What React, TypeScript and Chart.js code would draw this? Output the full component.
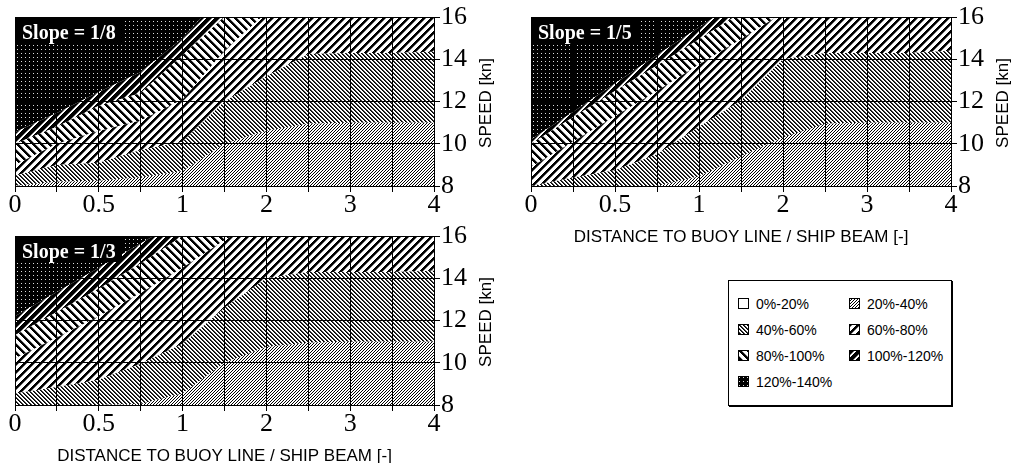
import React, { useEffect, useRef } from 'react';
import { Chart, registerables } from 'chart.js';

Chart.register(...registerables);

// ---------- DATA ----------
// x positions (distance to buoy line / ship beam) of the data grid
const X_LABELS = ['0', '0.25', '0.5', '0.75', '1', '1.5', '2', '2.5', '3', '3.5', '4'];
const X_TICKS_SHOWN = ['0', '0.5', '1', '2', '3', '4'];
const Y_MIN = 8;
const Y_MAX = 16;
const Y_STEP = 2;

const LEGEND_LABELS = ['0%-20%', '20%-40%', '40%-60%', '60%-80%', '80%-100%', '100%-120%', '120%-140%'];
const SLOPE_LABELS = ['Slope = 1/8', 'Slope = 1/5', 'Slope = 1/3'];
const X_TITLE = 'DISTANCE TO BUOY LINE / SHIP BEAM [-]';
const Y_TITLE = 'SPEED [kn]';

// Upper boundary (speed, kn) of each band at each X_LABELS position
// Slope = 1/8
const S8_TOP_20_40 = [8.0, 8.2, 8.25, 8.4, 8.7, 10.0, 10.6, 10.95, 11.0, 11.0, 11.0];
const S8_TOP_40_60 = [8.5, 9.0, 9.1, 9.7, 10.1, 12.0, 13.2, 14.25, 14.3, 14.3, 14.35];
const S8_TOP_60_80 = [9.0, 10.0, 10.6, 11.1, 12.1, 14.4, 16.2, 18, 18, 18, 18];
const S8_TOP_80_100 = [10.0, 10.8, 11.8, 12.4, 14.2, 16.0, 18, 18, 18, 18, 18];
const S8_TOP_100_120 = [10.55, 11.45, 12.45, 13.4, 15.0, 17.2, 18, 18, 18, 18, 18];

// Slope = 1/5
const S5_TOP_20_40 = [8.0, 8.0, 8.0, 8.0, 8.45, 9.4, 10.3, 10.95, 11.0, 11.0, 11.0];
const S5_TOP_40_60 = [8.0, 8.4, 8.75, 9.5, 10.8, 12.05, 14.0, 14.3, 14.3, 14.3, 14.4];
const S5_TOP_60_80 = [8.9, 10.1, 11.3, 12.5, 13.75, 14.95, 16.2, 18, 18, 18, 18];
const S5_TOP_80_100 = [10.0, 11.25, 12.5, 13.7, 14.95, 16.2, 18, 18, 18, 18, 18];
const S5_TOP_100_120 = [10.2, 11.5, 12.85, 14.2, 15.5, 16.85, 18, 18, 18, 18, 18];

// Slope = 1/3
const S3_TOP_20_40 = [8.0, 8.0, 8.0, 8.05, 8.55, 10.0, 10.75, 10.95, 11.0, 11.0, 11.0];
const S3_TOP_40_60 = [8.55, 8.85, 9.2, 9.95, 10.9, 12.6, 14.0, 14.3, 14.3, 14.3, 14.35];
const S3_TOP_60_80 = [10.2, 11.2, 12.2, 13.3, 14.5, 15.8, 16.9, 18, 18, 18, 18];
const S3_TOP_80_100 = [11.3, 12.4, 13.5, 14.7, 16.0, 17.2, 18, 18, 18, 18, 18];
const S3_TOP_100_120 = [12.2, 13.35, 14.5, 15.65, 16.8, 18, 18, 18, 18, 18, 18];

// ---------- STYLE ----------
const FONT_SERIF = '"Liberation Serif", "Times New Roman", serif';
const FONT_SANS = '"Liberation Sans", Arial, sans-serif';

type ShadeFn = (x: number, y: number) => number;
const mod = (a: number, n: number) => ((a % n) + n) % n;
const PATTERN_SPECS: [number, ShadeFn][] = [
  [1, () => 255],
  [3, (x, y) => (mod(x + y, 3) === 0 ? 0 : 255)],
  [4, (x, y) => { const d = mod(x - y, 4); return d === 0 ? 0 : d === 1 ? 60 : 255; }],
  [8, (x, y) => { const d = mod(x + y, 8); return d < 3 ? 0 : d === 3 ? 120 : 255; }],
  [8, (x, y) => { const d = mod(x - y, 8); return d < 3 ? 0 : d === 3 ? 150 : 255; }],
  [8, (x, y) => { const d = mod(x + y, 8); return d < 5 ? 0 : d === 5 ? 110 : 255; }],
  [4, (x, y) => (x % 4 === 1 && y % 4 === 1 ? 220 : 0)],
];

function makeTile(kind: number): HTMLCanvasElement {
  const [n, f] = PATTERN_SPECS[kind];
  const c = document.createElement('canvas');
  c.width = n;
  c.height = n;
  const cx = c.getContext('2d')!;
  const img = cx.createImageData(n, n);
  for (let y = 0; y < n; y++) {
    for (let x = 0; x < n; x++) {
      const v = f(x, y);
      const i = (y * n + x) * 4;
      img.data[i] = v;
      img.data[i + 1] = v;
      img.data[i + 2] = v;
      img.data[i + 3] = 255;
    }
  }
  cx.putImageData(img, 0, 0);
  return c;
}

const panelTextPlugin = {
  id: 'panelText',
  afterDraw(chart: any, _args: any, opts: any) {
    const { ctx, chartArea: a } = chart;
    ctx.save();
    ctx.fillStyle = '#000';
    ctx.fillRect(a.left, a.top, 107, 26);
    ctx.fillStyle = '#fff';
    ctx.font = `bold 20px ${FONT_SERIF}`;
    ctx.textAlign = 'left';
    ctx.textBaseline = 'alphabetic';
    ctx.fillText(opts.slope, a.left + 7, a.top + 22);

    ctx.fillStyle = '#000';
    ctx.font = `17px ${FONT_SANS}`;
    if (opts.xTitle) {
      ctx.textAlign = 'center';
      ctx.textBaseline = 'middle';
      ctx.fillText(X_TITLE, (a.left + a.right) / 2, a.bottom + 51.5);
    }
    ctx.translate(a.right + 52, (a.top + a.bottom) / 2 + 1.5);
    ctx.rotate(-Math.PI / 2);
    ctx.textAlign = 'center';
    ctx.textBaseline = 'middle';
    ctx.fillText(Y_TITLE, 0, 0);
    ctx.restore();
  },
};

interface PanelDef {
  slope: string;
  bands: number[][];
  xTitle: boolean;
  left: number;
  top: number;
  width: number;
  height: number;
  padLeft: number;
  padTop: number;
  yAxisWidth: number;
  xAxisHeight: number;
}

const PANELS: PanelDef[] = [
  {
    slope: SLOPE_LABELS[0],
    bands: [S8_TOP_20_40, S8_TOP_40_60, S8_TOP_60_80, S8_TOP_80_100, S8_TOP_100_120],
    xTitle: false, left: 0, top: 0, width: 500, height: 218,
    padLeft: 15, padTop: 17, yAxisWidth: 66, xAxisHeight: 32,
  },
  {
    slope: SLOPE_LABELS[1],
    bands: [S5_TOP_20_40, S5_TOP_40_60, S5_TOP_60_80, S5_TOP_80_100, S5_TOP_100_120],
    xTitle: true, left: 500, top: 0, width: 512, height: 252,
    padLeft: 31, padTop: 17, yAxisWidth: 61, xAxisHeight: 66,
  },
  {
    slope: SLOPE_LABELS[2],
    bands: [S3_TOP_20_40, S3_TOP_40_60, S3_TOP_60_80, S3_TOP_80_100, S3_TOP_100_120],
    xTitle: true, left: 0, top: 218, width: 500, height: 245,
    padLeft: 15, padTop: 18, yAxisWidth: 66, xAxisHeight: 58,
  },
];

function buildChart(canvas: HTMLCanvasElement, p: PanelDef): Chart {
  const ctx = canvas.getContext('2d')!;
  const pats = PATTERN_SPECS.map((_, k) => ctx.createPattern(makeTile(k), 'repeat'));
  const fills = ['start', '-1', '-1', '-1', '-1'];
  const common = {
    borderColor: 'rgba(0,0,0,0)',
    borderWidth: 0,
    pointRadius: 0,
    pointHoverRadius: 0,
    tension: 0,
  };
  const datasets: any[] = p.bands.map((b, i) => ({
    ...common,
    label: LEGEND_LABELS[i + 1],
    data: b,
    fill: fills[i],
    backgroundColor: pats[i + 1],
  }));
  datasets.push({
    ...common,
    label: LEGEND_LABELS[6],
    data: p.bands[4],
    fill: 'end',
    backgroundColor: pats[6],
  });

  return new Chart(ctx, {
    type: 'line',
    data: { labels: X_LABELS, datasets },
    options: {
      animation: false,
      responsive: false,
      devicePixelRatio: 1,
      events: [],
      layout: { padding: { left: p.padLeft, top: p.padTop, right: 0, bottom: 0 } },
      plugins: {
        legend: { display: false },
        tooltip: { enabled: false },
        title: { display: false },
        panelText: { slope: p.slope, xTitle: p.xTitle },
      } as any,
      scales: {
        x: {
          type: 'category',
          offset: false,
          grid: { color: '#000', lineWidth: 1, tickLength: 6, drawTicks: true, offset: false, z: 1 },
          border: { color: '#000', width: 1, z: 1 },
          ticks: {
            z: 1,
            autoSkip: false,
            maxRotation: 0,
            minRotation: 0,
            padding: 0,
            color: '#000',
            font: { family: FONT_SERIF, size: 26, lineHeight: 1 },
            callback: (_v: any, i: number) => (X_TICKS_SHOWN.includes(X_LABELS[i]) ? X_LABELS[i] : ''),
          },
          afterFit: (s: any) => { s.height = p.xAxisHeight; },
        },
        y: {
          type: 'linear',
          position: 'right',
          min: Y_MIN,
          max: Y_MAX,
          grid: { color: '#000', lineWidth: 1, tickLength: 6, drawTicks: true, z: 1 },
          border: { color: '#000', width: 1, z: 1 },
          ticks: {
            z: 1,
            stepSize: Y_STEP,
            padding: 1,
            color: '#000',
            font: { family: FONT_SERIF, size: 26, lineHeight: 1 },
          },
          afterFit: (s: any) => { s.width = p.yAxisWidth; },
        },
      } as any,
    },
    plugins: [panelTextPlugin as any],
  });
}

// Legend layout
const LEGEND_COLS = [738, 849];
const LEGEND_ROWS = [304, 330, 356, 382];

function LegendIcon({ kind, x, y }: { kind: number; x: number; y: number }) {
  const ref = useRef<HTMLCanvasElement>(null);
  useEffect(() => {
    const c = ref.current!;
    const cx = c.getContext('2d')!;
    const pat = cx.createPattern(makeTile(kind), 'repeat')!;
    cx.fillStyle = pat;
    cx.fillRect(0, 0, 11, 11);
    cx.strokeStyle = '#000';
    cx.lineWidth = 1;
    cx.strokeRect(0.5, 0.5, 10, 10);
  }, [kind]);
  return (
    <canvas
      ref={ref}
      width={11}
      height={11}
      style={{ position: 'absolute', left: x, top: y - 6, width: 11, height: 11 }}
    />
  );
}

export default function App() {
  const refs = [useRef<HTMLCanvasElement>(null), useRef<HTMLCanvasElement>(null), useRef<HTMLCanvasElement>(null)];

  useEffect(() => {
    const charts = PANELS.map((p, i) => buildChart(refs[i].current!, p));
    return () => charts.forEach((c) => c.destroy());
  }, []);

  return (
    <div
      style={{
        position: 'absolute',
        left: 0,
        top: 0,
        width: 1012,
        height: 463,
        overflow: 'hidden',
        background: '#fff',
      }}
    >
      {PANELS.map((p, i) => (
        <canvas
          key={i}
          ref={refs[i]}
          width={p.width}
          height={p.height}
          style={{ position: 'absolute', left: p.left, top: p.top, width: p.width, height: p.height }}
        />
      ))}
      <div
        style={{
          position: 'absolute',
          left: 728,
          top: 280,
          width: 224,
          height: 126,
          boxSizing: 'border-box',
          border: '1px solid #000',
          boxShadow: '1px 1px 0 #000',
          background: '#fff',
        }}
      />
      {LEGEND_LABELS.map((lab, k) => {
        const x = LEGEND_COLS[k % 2];
        const y = LEGEND_ROWS[Math.floor(k / 2)];
        return (
          <React.Fragment key={lab}>
            <LegendIcon kind={k} x={x} y={y} />
            <span
              style={{
                position: 'absolute',
                left: x + 18,
                top: y - 8,
                height: 16,
                lineHeight: '16px',
                fontFamily: FONT_SANS,
                fontSize: 14,
                color: '#000',
                whiteSpace: 'nowrap',
              }}
            >
              {lab}
            </span>
          </React.Fragment>
        );
      })}
    </div>
  );
}
